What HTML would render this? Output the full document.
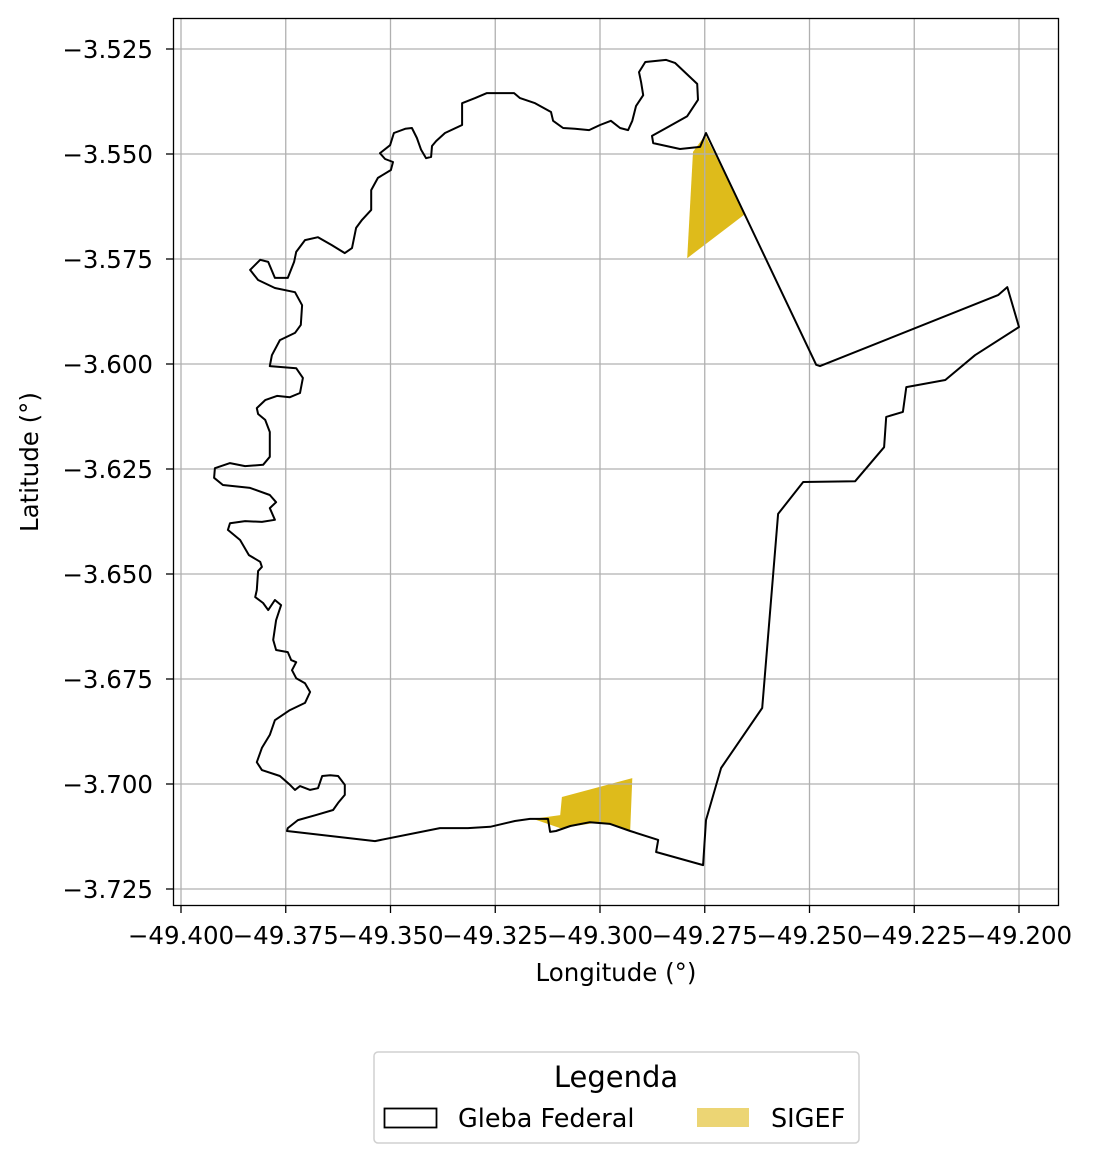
<!DOCTYPE html>
<html><head><meta charset="utf-8"><style>
body{margin:0;background:#fff;}
svg text{font-family:"DejaVu Sans","Liberation Sans",sans-serif;}
</style></head><body>
<svg id="chart" width="1096" height="1163" viewBox="0 0 1096 1163" xmlns="http://www.w3.org/2000/svg">
<rect width="1096" height="1163" fill="#fff"/>
<g id="fills"></g><g id="grid"></g><g id="outline"></g>
<rect x="173.5" y="18.5" width="885" height="887" fill="none" stroke="#000" stroke-width="1.3"/>
<g id="xticks"></g><g id="yticks"></g>
<text x="616" y="981" font-size="24.5" text-anchor="middle">Longitude (°)</text>
<text transform="translate(38,462) rotate(-90)" font-size="24.5" text-anchor="middle">Latitude (°)</text>
<g>
<rect x="374" y="1052" width="485" height="91" rx="4" fill="#fff" stroke="#d0d0d0" stroke-width="1.5"/>
<text x="616" y="1087" font-size="29" text-anchor="middle">Legenda</text>
<g><rect x="384.5" y="1108.5" width="52" height="19" fill="none" stroke="#000" stroke-width="1.8"/><text x="458" y="1127" font-size="25.5">Gleba Federal</text></g>
<g><rect x="697" y="1108" width="52" height="19" fill="#ecd574"/><text x="771" y="1127" font-size="25.5">SIGEF</text></g>
</g>
</svg>
<script>
const xTicks=[-49.400,-49.375,-49.350,-49.325,-49.300,-49.275,-49.250,-49.225,-49.200];
const yTicks=[-3.525,-3.550,-3.575,-3.600,-3.625,-3.650,-3.675,-3.700,-3.725];
const glebaLon=[-49.3747,-49.3537,-49.3382,-49.3315,-49.3262,-49.3203,-49.3167,-49.3124,-49.3119,-49.3105,-49.3071,-49.3024,-49.2976,-49.2928,-49.2861,-49.2866,-49.2754,-49.2747,-49.2711,-49.2613,-49.2575,-49.2515,-49.2391,-49.2322,-49.2317,-49.2277,-49.2269,-49.2176,-49.2105,-49.2000,-49.2028,-49.2050,-49.2475,-49.2484,-49.2747,-49.2761,-49.2809,-49.2873,-49.2876,-49.2833,-49.2792,-49.2766,-49.2768,-49.2821,-49.2842,-49.2892,-49.2907,-49.2902,-49.2897,-49.2914,-49.2923,-49.2933,-49.2952,-49.2974,-49.3000,-49.3026,-49.3060,-49.3088,-49.3112,-49.3117,-49.3155,-49.3191,-49.3205,-49.3270,-49.3298,-49.3329,-49.3329,-49.3370,-49.3391,-49.3401,-49.3403,-49.3415,-49.3427,-49.3437,-49.3449,-49.3465,-49.3492,-49.3501,-49.3525,-49.3513,-49.3494,-49.3499,-49.3530,-49.3546,-49.3546,-49.3568,-49.3582,-49.3592,-49.3609,-49.3640,-49.3673,-49.3704,-49.3725,-49.3730,-49.3745,-49.3776,-49.3792,-49.3811,-49.3835,-49.3816,-49.3776,-49.3728,-49.3711,-49.3714,-49.3728,-49.3764,-49.3783,-49.3788,-49.3725,-49.3709,-49.3716,-49.3740,-49.3771,-49.3799,-49.3819,-49.3816,-49.3799,-49.3788,-49.3788,-49.3804,-49.3847,-49.3883,-49.3919,-49.3921,-49.3900,-49.3835,-49.3788,-49.3773,-49.3788,-49.3776,-49.3807,-49.3847,-49.3883,-49.3888,-49.3859,-49.3838,-49.3811,-49.3807,-49.3816,-49.3819,-49.3823,-49.3804,-49.3792,-49.3776,-49.3761,-49.3773,-49.3780,-49.3773,-49.3745,-49.3737,-49.3725,-49.3735,-49.3725,-49.3704,-49.3692,-49.3704,-49.3740,-49.3776,-49.3788,-49.3807,-49.3819,-49.3807,-49.3764,-49.3740,-49.3728,-49.3716,-49.3692,-49.3673,-49.3663,-49.3644,-49.3625,-49.3609,-49.3609,-49.3625,-49.3637,-49.3678,-49.3721,-49.3745];
const glebaLat=[-3.7112,-3.7136,-3.7105,-3.7105,-3.7102,-3.7088,-3.7083,-3.7083,-3.7114,-3.7112,-3.7100,-3.7091,-3.7095,-3.7112,-3.7133,-3.7162,-3.7193,-3.7086,-3.6962,-3.6819,-3.6357,-3.6281,-3.6279,-3.6198,-3.6126,-3.6114,-3.6055,-3.6038,-3.5979,-3.5912,-3.5817,-3.5836,-3.6005,-3.6002,-3.5450,-3.5483,-3.5488,-3.5474,-3.5457,-3.5433,-3.5410,-3.5371,-3.5333,-3.5283,-3.5276,-3.5281,-3.5305,-3.5329,-3.5360,-3.5386,-3.5421,-3.5443,-3.5438,-3.5421,-3.5431,-3.5443,-3.5440,-3.5438,-3.5421,-3.5400,-3.5379,-3.5367,-3.5355,-3.5355,-3.5367,-3.5379,-3.5431,-3.5450,-3.5469,-3.5481,-3.5507,-3.5510,-3.5490,-3.5462,-3.5438,-3.5440,-3.5450,-3.5479,-3.5498,-3.5512,-3.5519,-3.5538,-3.5557,-3.5586,-3.5633,-3.5657,-3.5676,-3.5724,-3.5736,-3.5717,-3.5698,-3.5705,-3.5733,-3.5757,-3.5795,-3.5795,-3.5757,-3.5752,-3.5776,-3.5800,-3.5819,-3.5829,-3.5860,-3.5907,-3.5926,-3.5943,-3.5979,-3.6005,-3.6010,-3.6033,-3.6069,-3.6079,-3.6076,-3.6086,-3.6105,-3.6119,-3.6133,-3.6162,-3.6221,-3.6240,-3.6243,-3.6236,-3.6248,-3.6271,-3.6288,-3.6295,-3.6312,-3.6329,-3.6343,-3.6371,-3.6376,-3.6374,-3.6379,-3.6395,-3.6419,-3.6455,-3.6471,-3.6483,-3.6493,-3.6538,-3.6555,-3.6569,-3.6586,-3.6562,-3.6574,-3.6610,-3.6657,-3.6681,-3.6686,-3.6705,-3.6710,-3.6729,-3.6748,-3.6760,-3.6781,-3.6807,-3.6824,-3.6848,-3.6883,-3.6914,-3.6948,-3.6967,-3.6981,-3.7002,-3.7014,-3.7005,-3.7014,-3.7010,-3.6981,-3.6979,-3.6981,-3.7002,-3.7026,-3.7045,-3.7062,-3.7074,-3.7086,-3.7105];
const sigefNorthLon=[-49.2778,-49.2749,-49.2654,-49.2792];
const sigefNorthLat=[-3.5495,-3.5455,-3.5643,-3.5748];
const sigefSouthLon=[-49.3160,-49.3095,-49.3091,-49.2923,-49.2928,-49.3000,-49.3095];
const sigefSouthLat=[-3.7083,-3.7074,-3.7031,-3.6986,-3.7110,-3.7091,-3.7105];

const NS='http://www.w3.org/2000/svg';
const X=v=>181+(v+49.4)/0.2*838;
const Y=v=>49+(-3.525-v)/0.2*840;
function mk(tag,attrs,parent){const e=document.createElementNS(NS,tag);for(const k in attrs)e.setAttribute(k,attrs[k]);document.getElementById(parent).appendChild(e);return e;}
function pts(lo,la){return lo.map((v,i)=>X(v).toFixed(1)+','+Y(la[i]).toFixed(1)).join(' ');}
const f1=mk('polygon',{points:pts(sigefNorthLon,sigefNorthLat),fill:'#debb1b'},'fills');


const f2=mk('polygon',{points:pts(sigefSouthLon,sigefSouthLat),fill:'#debb1b'},'fills');


xTicks.forEach(t=>{
  const x=X(t);
  const g=mk('line',{x1:x,x2:x,y1:18,y2:906,stroke:'#b0b0b0','stroke-width':1.3},'grid');
  
  
  mk('line',{x1:x,x2:x,y1:906,y2:913,stroke:'#000','stroke-width':1.3},'xticks');
  const tx=mk('text',{x:x,y:944,'font-size':24.5,'text-anchor':'middle'},'xticks');
  tx.textContent=t.toFixed(3).replace('-','\u2212');
  
  
});
yTicks.forEach(t=>{
  const y=Y(t);
  const g=mk('line',{x1:173,x2:1059,y1:y,y2:y,stroke:'#b0b0b0','stroke-width':1.3},'grid');
  
  
  mk('line',{x1:166,x2:173,y1:y,y2:y,stroke:'#000','stroke-width':1.3},'yticks');
  const tx=mk('text',{x:153,y:y+9,'font-size':24.5,'text-anchor':'end'},'yticks');
  tx.textContent=t.toFixed(3).replace('-','\u2212');
  
  
});
const o=mk('polygon',{points:pts(glebaLon,glebaLat),fill:'none',stroke:'#000','stroke-width':2,'stroke-linejoin':'round'},'outline');


</script>
</body></html>
